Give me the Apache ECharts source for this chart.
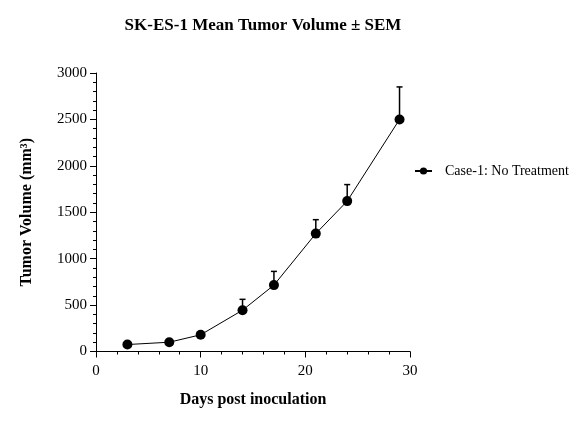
<!DOCTYPE html>
<html>
<head>
<meta charset="utf-8">
<script src="https://cdn.jsdelivr.net/npm/echarts@6/dist/echarts.min.js"></script>
<style>
html,body{margin:0;padding:0;background:#fff;}
#chart{width:581px;height:439px;}
</style>
</head>
<body>
<div id="chart"></div>
<script>
const days = [3, 7, 10, 14, 17, 21, 24, 29];
const meanVolume = [75, 100, 180, 445, 715, 1270, 1620, 2500];
const semValues = [20, 25, 30, 117, 148, 150, 178, 350];
const seriesName = 'Case-1: No Treatment';
const xTicks = [0, 10, 20, 30];
const yTicks = [0, 500, 1000, 1500, 2000, 2500, 3000];

const FONT = "'Liberation Serif', 'Times New Roman', serif";
const lineData = days.map((d, i) => [d, meanVolume[i]]);
const errData = days.map((d, i) => [d, meanVolume[i], semValues[i]]);

function renderErr(params, api) {
  const x = api.value(0), y = api.value(1), e = api.value(2);
  const p0 = api.coord([x, y]);
  const p1 = api.coord([x, y + e]);
  const w = 3;
  const st = { stroke: '#000', lineWidth: 1.5 };
  return {
    type: 'group',
    children: [
      { type: 'line', shape: { x1: p0[0], y1: p0[1], x2: p1[0], y2: p1[1] }, style: st },
      { type: 'line', shape: { x1: p1[0] - w, y1: p1[1], x2: p1[0] + w, y2: p1[1] }, style: st }
    ]
  };
}

const chart = echarts.init(document.getElementById('chart'));
chart.setOption({
  backgroundColor: '#fff',
  animation: false,
  title: {
    text: 'SK-ES-1 Mean Tumor Volume ± SEM',
    left: 258, top: 12, textAlign: 'center',
    textStyle: { fontFamily: FONT, fontSize: 17, fontWeight: 'bold', color: '#000' }
  },
  legend: {
    left: 409, top: 159, orient: 'vertical',
    itemWidth: 17, itemHeight: 9,
    data: [{ name: seriesName }],
    textStyle: { fontFamily: FONT, fontSize: 14, color: '#000', padding: [0, 0, 0, 8] }
  },
  grid: { left: 96, right: 171, top: 73, bottom: 87.5, containLabel: false },
  xAxis: {
    type: 'value', min: xTicks[0], max: xTicks[xTicks.length - 1], interval: 10,
    name: 'Days post inoculation', nameLocation: 'middle', nameGap: 40,
    nameTextStyle: { fontFamily: FONT, fontSize: 16, fontWeight: 'bold', color: '#000' },
    axisLine: { lineStyle: { color: '#000', width: 1 } },
    axisTick: { show: true, length: 6, lineStyle: { color: '#000' } },
    minorTick: { show: true, splitNumber: 5, length: 3, lineStyle: { color: '#000' } },
    splitLine: { show: false },
    axisLabel: { fontFamily: FONT, fontSize: 15, color: '#000', margin: 12 }
  },
  yAxis: {
    type: 'value', min: yTicks[0], max: yTicks[yTicks.length - 1], interval: 500,
    name: 'Tumor Volume (mm³)', nameLocation: 'middle', nameGap: 61,
    nameTextStyle: { fontFamily: FONT, fontSize: 16, fontWeight: 'bold', color: '#000' },
    axisLine: { show: true, lineStyle: { color: '#000', width: 1 } },
    axisTick: { show: true, length: 6, lineStyle: { color: '#000' } },
    minorTick: { show: true, splitNumber: 5, length: 3, lineStyle: { color: '#000' } },
    splitLine: { show: false },
    axisLabel: { fontFamily: FONT, fontSize: 15, color: '#000', margin: 9, formatter: v => String(v) }
  },
  series: [
    {
      type: 'custom', name: 'SEM', renderItem: renderErr, data: errData, z: 1,
      encode: { x: 0, y: [1, 2] }, silent: true
    },
    {
      type: 'line', name: seriesName, data: lineData, z: 3,
      symbol: 'circle', symbolSize: 10,
      itemStyle: { color: '#000' },
      lineStyle: { color: '#000', width: 1 }
    }
  ]
});
</script>
</body>
</html>
